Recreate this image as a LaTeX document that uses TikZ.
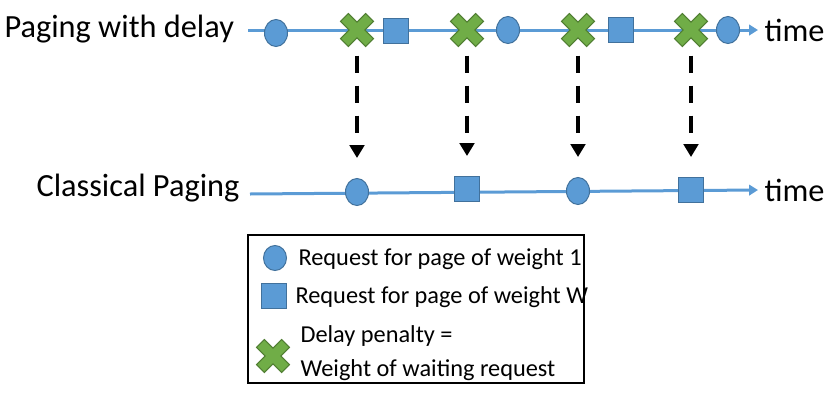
\documentclass[tikz,border=0pt]{standalone}
\usepackage{fontspec}
\setmainfont{Carlito}
\usetikzlibrary{positioning, shapes.geometric, arrows.meta}

\definecolor{reqblue}{RGB}{91,155,213}
\definecolor{reqborder}{RGB}{65,113,156}
\definecolor{penaltygreen}{RGB}{112,173,71}
\definecolor{penaltyborder}{RGB}{80,126,50}

\begin{document}
\begin{tikzpicture}[x=0.025cm, y=-0.025cm, thick]

    % Define styles
    \tikzstyle{circ} = [draw=reqborder, fill=reqblue, ellipse, line width=0.7pt, inner sep=0, minimum width=0.575cm, minimum height=0.675cm]
    \tikzstyle{sq} = [draw=reqborder, fill=reqblue, rectangle, line width=0.7pt, inner sep=0, minimum size=0.625cm]
    \tikzstyle{crs} = [rectangle, inner sep=0, minimum size=0.9cm,
        path picture={\filldraw[fill=penaltygreen, draw=penaltyborder, line width=0.7pt, shift={(path picture bounding box.center)}]
            (-0.2157cm,0.4137cm) -- (0cm,0.198cm) -- (0.2157cm,0.4137cm) -- (0.4137cm,0.2157cm) -- (0.198cm,0cm) -- (0.4137cm,-0.2157cm)
            -- (0.2157cm,-0.4137cm) -- (0cm,-0.198cm) -- (-0.2157cm,-0.4137cm) -- (-0.4137cm,-0.2157cm) -- (-0.198cm,0cm) -- (-0.4137cm,0.2157cm) -- cycle;}]
    \tikzstyle{timeline} = [draw=reqblue, line width=0.075cm, -{Triangle[length=0.22cm, width=0.26cm]}]
    \tikzstyle{delay} = [line width=0.1cm, dash pattern=on 0.425cm off 0.325cm, -{Triangle[length=0.32cm, width=0.36cm]}, shorten <=0.175cm, shorten >=0.5cm]
    \tikzstyle{big} = [font=\fontsize{23}{27}\selectfont, inner sep=0, anchor=west]
    \tikzstyle{small} = [font=\fontsize{17.3}{24.5}\selectfont, inner sep=0, anchor=west, align=left]

    \useasboundingbox (0,0) rectangle (831,403);

    % PAGING WITH DELAY
    \node (delay_label) [big] at (4,29) {Paging with delay};
    \coordinate (delay_start) at (248,30);
    \coordinate (delay_end) at (758,30);
    \draw[timeline] (delay_start) -- (delay_end);
    \node (delay_time) [big] at (764,30) {time};

    \node (delay_circ1) [circ] at (276,33) {};
    \node (delay_cross1) [crs] at (357,30) {};
    \node (delay_sq1) [sq] at (396,31) {};
    \node (delay_cross2) [crs] at (467,30) {};
    \node (delay_circ2) [circ] at (508,30) {};
    \node (delay_cross3) [crs] at (578,30) {};
    \node (delay_sq2) [sq] at (621,30) {};
    \node (delay_cross4) [crs] at (691,30) {};
    \node (delay_circ3) [circ] at (728,30) {};

    % CLASSICAL PAGING
    \node (classic_label) [big] at (36,188) {Classical Paging};
    \coordinate (classic_start) at (250,194);
    \coordinate (classic_end) at (758,190);
    \draw[timeline] (classic_start) -- (classic_end);
    \node (classic_time) [big] at (764,190) {time};

    \node (classic_circ1) [circ] at (357,192) {};
    \node (classic_sq1) [sq] at (467,189) {};
    \node (classic_circ2) [circ] at (578,191) {};
    \node (classic_sq2) [sq] at (691,190) {};

    % CONNECTIONS
    \draw[delay] (delay_cross1) -- (classic_circ1);
    \draw[delay] (delay_cross2) -- (classic_sq1);
    \draw[delay] (delay_cross3) -- (classic_circ2);
    \draw[delay] (delay_cross4) -- (classic_sq2);

    % LEGEND
    \node (legend) [draw, line width=0.9pt, minimum width=8.4cm, minimum height=3.7cm] at (416,309) {};
    \node (legend_circ) [circ, minimum height=0.625cm] at (275,258) {};
    \node (legend_circ_text) [small] at (298,259) {Request for page of weight 1};
    \node (legend_sq) [sq] at (274,296) {};
    \node (legend_sq_text) [small] at (295,297) {Request for page of weight W};
    \node (legend_crs) [crs] at (273,356) {};
    \node (legend_crs_text) [small] at (300,353) {Delay penalty =\\Weight of waiting request};

\end{tikzpicture}
\end{document}
